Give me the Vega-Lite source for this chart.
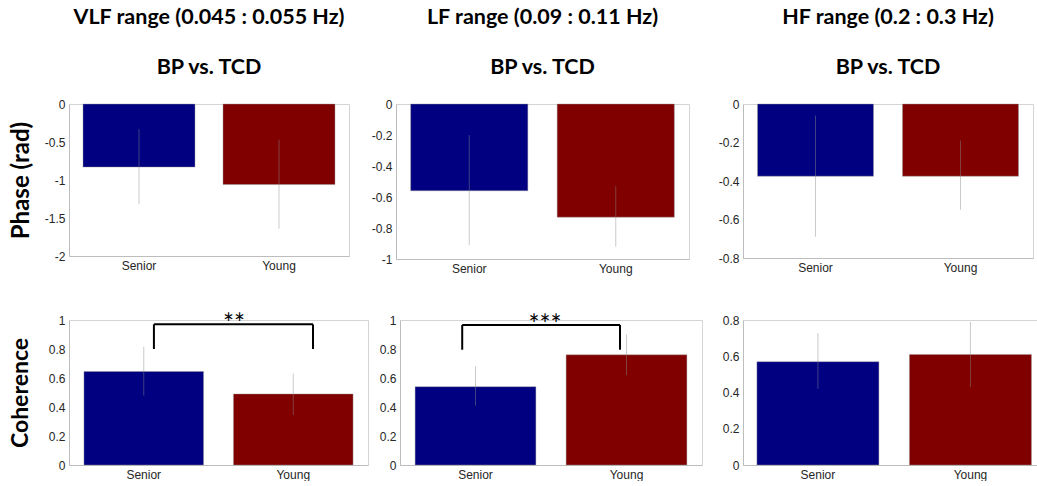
{
  "$schema": "https://vega.github.io/schema/vega-lite/v6.json",
  "padding": {"left": 8, "top": 6, "right": 0, "bottom": 0},
  "background": "white",
  "datasets": {
    "phase": [
      {"band": "VLF", "group": "Senior", "mean": -0.83, "lo": -1.32, "hi": -0.33},
      {"band": "VLF", "group": "Young", "mean": -1.06, "lo": -1.64, "hi": -0.47},
      {"band": "LF", "group": "Senior", "mean": -0.56, "lo": -0.91, "hi": -0.2},
      {"band": "LF", "group": "Young", "mean": -0.73, "lo": -0.92, "hi": -0.53},
      {"band": "HF", "group": "Senior", "mean": -0.375, "lo": -0.69, "hi": -0.06},
      {"band": "HF", "group": "Young", "mean": -0.375, "lo": -0.55, "hi": -0.19}
    ],
    "coherence": [
      {"band": "VLF", "group": "Senior", "mean": 0.645, "lo": 0.48, "hi": 0.815},
      {"band": "VLF", "group": "Young", "mean": 0.49, "lo": 0.345, "hi": 0.63},
      {"band": "LF", "group": "Senior", "mean": 0.54, "lo": 0.41, "hi": 0.68},
      {"band": "LF", "group": "Young", "mean": 0.76, "lo": 0.62, "hi": 0.9},
      {"band": "HF", "group": "Senior", "mean": 0.57, "lo": 0.42, "hi": 0.728},
      {"band": "HF", "group": "Young", "mean": 0.61, "lo": 0.43, "hi": 0.79}
    ],
    "brackets": [
      {"band": "VLF", "left": "Senior", "right": "Young", "low": 0.8, "high": 0.97, "stars": "**"},
      {"band": "LF", "left": "Senior", "right": "Young", "low": 0.795, "high": 0.966, "stars": "***"}
    ]
  },
  "vconcat": [
    {
      "hconcat": [
        {
          "width": 280, "height": 152,
          "title": {"text": ["VLF range (0.045 : 0.055 Hz)", "BP vs. TCD"], "anchor": "middle"},
          "data": {"name": "phase"},
          "transform": [{"filter": "datum.band === 'VLF'"}],
          "encoding": {
            "x": {"field": "group", "type": "nominal", "scale": {"domain": ["Senior", "Young"], "paddingInner": 0.2, "paddingOuter": 0.1}, "axis": {"title": null, "labelAngle": 0}}
          },
          "layer": [
            {
              "mark": {"type": "bar", "stroke": "#9a9a9a", "strokeWidth": 0.7, "strokeOpacity": 0.6},
              "encoding": {
                "y": {"field": "mean", "type": "quantitative", "scale": {"domain": [-2, 0], "nice": false}, "axis": {"title": "Phase (rad)", "titleFontSize": 24, "values": [-2, -1.5, -1, -0.5, 0], "tickCount": 20, "labelExpr": "'' + datum.value", "minExtent": 30, "maxExtent": 30, "titlePadding": 5.5}},
                "color": {"field": "group", "type": "nominal", "scale": {"domain": ["Senior", "Young"], "range": ["#000080", "#800000"]}, "legend": null}
              }
            },
            {
              "mark": {"type": "rule", "color": "#8a8a8a", "opacity": 0.45, "strokeWidth": 1},
              "encoding": {"y": {"field": "lo", "type": "quantitative"}, "y2": {"field": "hi"}}
            }
          ]
        },
        {
          "width": 293, "height": 155,
          "title": {"text": ["LF range (0.09 : 0.11 Hz)", "BP vs. TCD"], "anchor": "middle"},
          "data": {"name": "phase"},
          "transform": [{"filter": "datum.band === 'LF'"}],
          "encoding": {
            "x": {"field": "group", "type": "nominal", "scale": {"domain": ["Senior", "Young"], "paddingInner": 0.2, "paddingOuter": 0.1}, "axis": {"title": null, "labelAngle": 0}}
          },
          "layer": [
            {
              "mark": {"type": "bar", "stroke": "#9a9a9a", "strokeWidth": 0.7, "strokeOpacity": 0.6},
              "encoding": {
                "y": {"field": "mean", "type": "quantitative", "scale": {"domain": [-1, 0], "nice": false}, "axis": {"title": null, "values": [-1, -0.8, -0.6, -0.4, -0.2, 0], "tickCount": 20, "labelExpr": "'' + datum.value", "minExtent": 45, "maxExtent": 45}},
                "color": {"field": "group", "type": "nominal", "scale": {"domain": ["Senior", "Young"], "range": ["#000080", "#800000"]}, "legend": null}
              }
            },
            {
              "mark": {"type": "rule", "color": "#8a8a8a", "opacity": 0.45, "strokeWidth": 1},
              "encoding": {"y": {"field": "lo", "type": "quantitative"}, "y2": {"field": "hi"}}
            }
          ]
        },
        {
          "width": 290, "height": 154,
          "title": {"text": ["HF range (0.2 : 0.3 Hz)", "BP vs. TCD"], "anchor": "middle"},
          "data": {"name": "phase"},
          "transform": [{"filter": "datum.band === 'HF'"}],
          "encoding": {
            "x": {"field": "group", "type": "nominal", "scale": {"domain": ["Senior", "Young"], "paddingInner": 0.2, "paddingOuter": 0.1}, "axis": {"title": null, "labelAngle": 0}}
          },
          "layer": [
            {
              "mark": {"type": "bar", "stroke": "#9a9a9a", "strokeWidth": 0.7, "strokeOpacity": 0.6},
              "encoding": {
                "y": {"field": "mean", "type": "quantitative", "scale": {"domain": [-0.8, 0], "nice": false}, "axis": {"title": null, "values": [-0.8, -0.6, -0.4, -0.2, 0], "tickCount": 20, "labelExpr": "'' + datum.value", "minExtent": 52, "maxExtent": 52}},
                "color": {"field": "group", "type": "nominal", "scale": {"domain": ["Senior", "Young"], "range": ["#000080", "#800000"]}, "legend": null}
              }
            },
            {
              "mark": {"type": "rule", "color": "#8a8a8a", "opacity": 0.45, "strokeWidth": 1},
              "encoding": {"y": {"field": "lo", "type": "quantitative"}, "y2": {"field": "hi"}}
            }
          ]
        }
      ]
    },
    {
      "hconcat": [
        {
          "width": 299, "height": 145,
          "encoding": {
            "x": {"type": "nominal", "scale": {"domain": ["Senior", "Young"], "paddingInner": 0.2, "paddingOuter": 0.1}, "axis": {"title": null, "labelAngle": 0}}
          },
          "layer": [
            {
              "data": {"name": "coherence"},
              "transform": [{"filter": "datum.band === 'VLF'"}],
              "mark": {"type": "bar", "stroke": "#9a9a9a", "strokeWidth": 0.7, "strokeOpacity": 0.6},
              "encoding": {
                "x": {"field": "group", "type": "nominal"},
                "y": {"field": "mean", "type": "quantitative", "scale": {"domain": [0, 1], "nice": false}, "axis": {"title": "Coherence", "titleFontSize": 23, "values": [0, 0.2, 0.4, 0.6, 0.8, 1], "tickCount": 20, "labelExpr": "'' + datum.value", "minExtent": 30, "maxExtent": 30, "titlePadding": 6.5}},
                "color": {"field": "group", "type": "nominal", "scale": {"domain": ["Senior", "Young"], "range": ["#000080", "#800000"]}, "legend": null}
              }
            },
            {
              "data": {"name": "coherence"},
              "transform": [{"filter": "datum.band === 'VLF'"}],
              "mark": {"type": "rule", "color": "#8a8a8a", "opacity": 0.45, "strokeWidth": 1},
              "encoding": {"x": {"field": "group", "type": "nominal"}, "y": {"field": "lo", "type": "quantitative"}, "y2": {"field": "hi"}}
            },
            {
              "data": {"name": "brackets"},
              "transform": [{"filter": "datum.band === 'VLF'"}],
              "mark": {"type": "rule", "color": "black", "strokeWidth": 2},
              "encoding": {"x": {"field": "left", "type": "nominal", "bandPosition": 0.585}, "y": {"field": "low", "type": "quantitative"}, "y2": {"field": "high"}}
            },
            {
              "data": {"name": "brackets"},
              "transform": [{"filter": "datum.band === 'VLF'"}],
              "mark": {"type": "rule", "color": "black", "strokeWidth": 2},
              "encoding": {"x": {"field": "right", "type": "nominal", "bandPosition": 0.665}, "y": {"field": "low", "type": "quantitative"}, "y2": {"field": "high"}}
            },
            {
              "data": {"name": "brackets"},
              "transform": [{"filter": "datum.band === 'VLF'"}],
              "mark": {"type": "rule", "color": "black", "strokeWidth": 2},
              "encoding": {"x": {"field": "left", "type": "nominal", "bandPosition": 0.585}, "x2": {"field": "right", "bandPosition": 0.665}, "y": {"field": "high", "type": "quantitative"}}
            },
            {
              "data": {"name": "brackets"},
              "transform": [{"filter": "datum.band === 'VLF'"}],
              "mark": {"type": "text", "font": "Lato", "fontSize": 26, "baseline": "alphabetic", "align": "center", "color": "black", "dy": 9},
              "encoding": {"x": {"field": "left", "type": "nominal", "bandPosition": 1.254}, "y": {"field": "high", "type": "quantitative"}, "text": {"field": "stars"}}
            }
          ]
        },
        {
          "width": 302, "height": 145,
          "encoding": {
            "x": {"type": "nominal", "scale": {"domain": ["Senior", "Young"], "paddingInner": 0.2, "paddingOuter": 0.1}, "axis": {"title": null, "labelAngle": 0}}
          },
          "layer": [
            {
              "data": {"name": "coherence"},
              "transform": [{"filter": "datum.band === 'LF'"}],
              "mark": {"type": "bar", "stroke": "#9a9a9a", "strokeWidth": 0.7, "strokeOpacity": 0.6},
              "encoding": {
                "x": {"field": "group", "type": "nominal"},
                "y": {"field": "mean", "type": "quantitative", "scale": {"domain": [0, 1], "nice": false}, "axis": {"title": null, "values": [0, 0.2, 0.4, 0.6, 0.8, 1], "tickCount": 20, "labelExpr": "'' + datum.value", "minExtent": 30, "maxExtent": 30}},
                "color": {"field": "group", "type": "nominal", "scale": {"domain": ["Senior", "Young"], "range": ["#000080", "#800000"]}, "legend": null}
              }
            },
            {
              "data": {"name": "coherence"},
              "transform": [{"filter": "datum.band === 'LF'"}],
              "mark": {"type": "rule", "color": "#8a8a8a", "opacity": 0.45, "strokeWidth": 1},
              "encoding": {"x": {"field": "group", "type": "nominal"}, "y": {"field": "lo", "type": "quantitative"}, "y2": {"field": "hi"}}
            },
            {
              "data": {"name": "brackets"},
              "transform": [{"filter": "datum.band === 'LF'"}],
              "mark": {"type": "rule", "color": "black", "strokeWidth": 2},
              "encoding": {"x": {"field": "left", "type": "nominal", "bandPosition": 0.39}, "y": {"field": "low", "type": "quantitative"}, "y2": {"field": "high"}}
            },
            {
              "data": {"name": "brackets"},
              "transform": [{"filter": "datum.band === 'LF'"}],
              "mark": {"type": "rule", "color": "black", "strokeWidth": 2},
              "encoding": {"x": {"field": "right", "type": "nominal", "bandPosition": 0.446}, "y": {"field": "low", "type": "quantitative"}, "y2": {"field": "high"}}
            },
            {
              "data": {"name": "brackets"},
              "transform": [{"filter": "datum.band === 'LF'"}],
              "mark": {"type": "rule", "color": "black", "strokeWidth": 2},
              "encoding": {"x": {"field": "left", "type": "nominal", "bandPosition": 0.39}, "x2": {"field": "right", "bandPosition": 0.446}, "y": {"field": "high", "type": "quantitative"}}
            },
            {
              "data": {"name": "brackets"},
              "transform": [{"filter": "datum.band === 'LF'"}],
              "mark": {"type": "text", "font": "Lato", "fontSize": 26, "baseline": "alphabetic", "align": "center", "color": "black", "dy": 9},
              "encoding": {"x": {"field": "left", "type": "nominal", "bandPosition": 1.075}, "y": {"field": "high", "type": "quantitative"}, "text": {"field": "stars"}}
            }
          ]
        },
        {
          "width": 295, "height": 145,
          "data": {"name": "coherence"},
          "transform": [{"filter": "datum.band === 'HF'"}],
          "encoding": {
            "x": {"field": "group", "type": "nominal", "scale": {"domain": ["Senior", "Young"], "paddingInner": 0.2, "paddingOuter": 0.067, "align": 0.68}, "axis": {"title": null, "labelAngle": 0}}
          },
          "layer": [
            {
              "mark": {"type": "bar", "stroke": "#9a9a9a", "strokeWidth": 0.7, "strokeOpacity": 0.6},
              "encoding": {
                "y": {"field": "mean", "type": "quantitative", "scale": {"domain": [0, 0.8], "nice": false}, "axis": {"title": null, "values": [0, 0.2, 0.4, 0.6, 0.8], "tickCount": 20, "labelExpr": "'' + datum.value", "minExtent": 39, "maxExtent": 39}},
                "color": {"field": "group", "type": "nominal", "scale": {"domain": ["Senior", "Young"], "range": ["#000080", "#800000"]}, "legend": null}
              }
            },
            {
              "mark": {"type": "rule", "color": "#8a8a8a", "opacity": 0.45, "strokeWidth": 1},
              "encoding": {"y": {"field": "lo", "type": "quantitative"}, "y2": {"field": "hi"}}
            }
          ]
        }
      ]
    }
  ],
  "spacing": 36,
  "config": {
    "view": {"stroke": "#d4d4d4"},
    "concat": {"spacing": 0},
    "axis": {
      "domainColor": "#bdbdbd",
      "ticks": false,
      "grid": false,
      "labelOverlap": false,
      "labelFont": "Liberation Sans",
      "labelFontSize": 12,
      "labelColor": "#262626",
      "labelPadding": 4,
      "titleFont": "Lato",
      "titleFontWeight": "bold",
      "titleFontSize": 21,
      "titleColor": "black"
    },
    "title": {"font": "Lato", "fontWeight": "bold", "fontSize": 21.5, "lineHeight": 50, "color": "black", "offset": 20}
  }
}
